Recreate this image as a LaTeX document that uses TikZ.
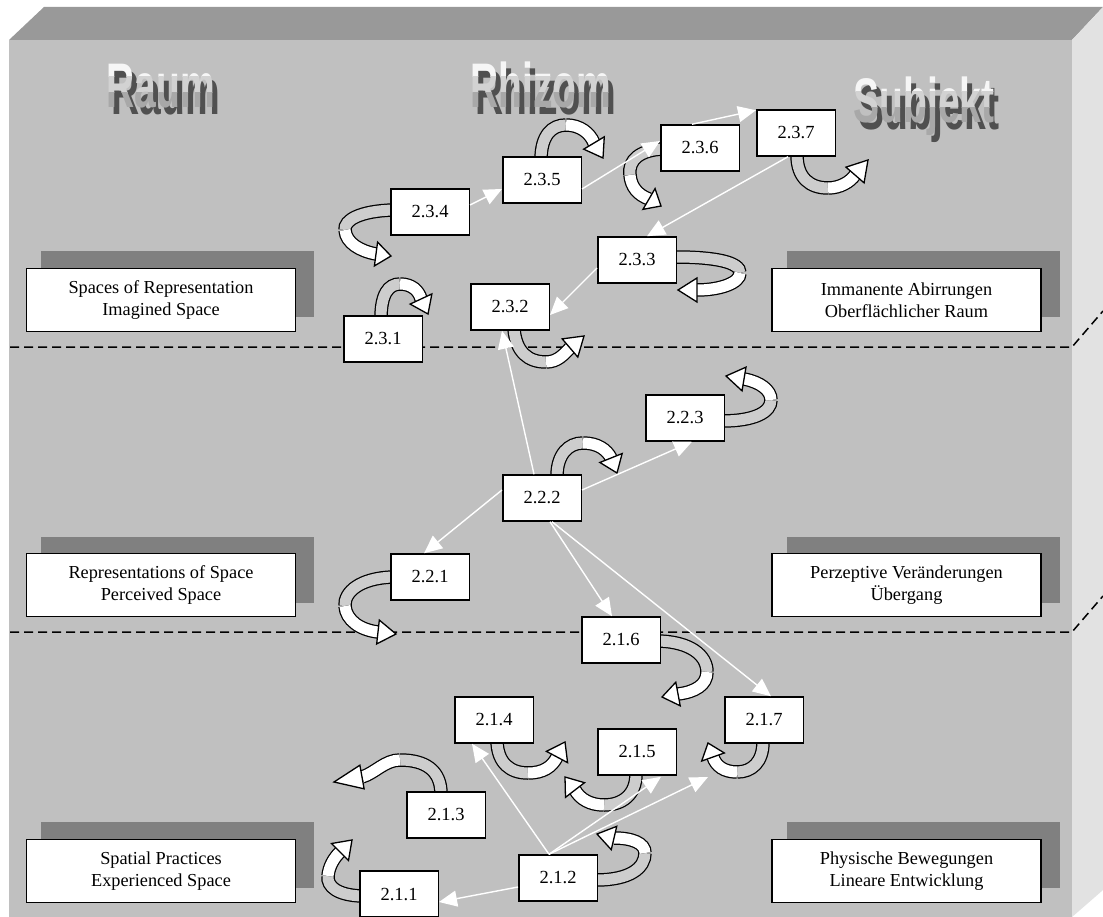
\documentclass[tikz,border=0pt]{standalone}
\usepackage{fontspec}
\setmainfont{Liberation Serif}
\newfontfamily\ttlfont{Liberation Sans}
\usetikzlibrary{calc,arrows.meta}
\definecolor{frontgray}{HTML}{C0C0C0}
\definecolor{topgray}{HTML}{999999}
\definecolor{sidegray}{HTML}{E2E2E2}
\definecolor{shadowgray}{HTML}{808080}
\definecolor{backgray}{HTML}{CDCDCD}
\definecolor{ttlshadow}{HTML}{505050}
\definecolor{ttlA}{HTML}{F6F6F6}
\definecolor{ttlB}{HTML}{D2D2D2}
\definecolor{ttlC}{HTML}{A8A8A8}
\tikzset{
  numbox/.style={draw=black, fill=white, line width=1.5pt, minimum width=78.5pt, minimum height=46pt, inner sep=0pt, font=\fontsize{18.5}{18.5}\selectfont},
  sidebox/.style={draw=black, fill=white, line width=1.5pt, minimum width=269pt, minimum height=63pt, inner sep=0pt, align=center, font=\fontsize{18.3}{21.7}\selectfont},
  conn/.style={draw=white, line width=1.4pt, -{Triangle[length=18pt,width=16pt]}},
  rback/.style={draw=backgray, line width=11pt, preaction={draw=black, line width=13.5pt}},
  rfront/.style={draw=white, line width=11pt, preaction={draw=black, line width=13.5pt}},
  rhead/.style={draw=black, fill=white, line width=1.3pt, line join=miter},
  dashln/.style={draw=black, line width=1.5pt, dash pattern=on 9pt off 5pt},
  ttlstyle/.style={anchor=base, inner sep=0pt, font=\ttlfont\bfseries\fontsize{63}{63}\selectfont}
}
\newcommand\rib[4]{%
  \draw[rback] #1;
  \draw[rfront] #2;
  \draw[rhead] ($#3!12pt!90:#4$) -- #4 -- ($#3!12pt!-90:#4$) -- cycle;}
\newcommand\ttl[4]{%
  \node[ttlstyle, text=ttlshadow] (#1s) at (#2+5,#3+7) {\scalebox{0.62}[1]{#4}};
  \begin{scope}
    \clip (#2-120,#3-60) rectangle (#2+120,#3-31);
    \node[ttlstyle, text=ttlA] (#1a) at (#2,#3) {\scalebox{0.62}[1]{#4}};
  \end{scope}
  \begin{scope}
    \clip (#2-120,#3-31) rectangle (#2+120,#3-15);
    \node[ttlstyle, text=ttlB] (#1b) at (#2,#3) {\scalebox{0.62}[1]{#4}};
  \end{scope}
  \begin{scope}
    \clip (#2-120,#3-15) rectangle (#2+120,#3+20);
    \node[ttlstyle, text=ttlC] (#1c) at (#2,#3) {\scalebox{0.62}[1]{#4}};
  \end{scope}
}
\begin{document}
\begin{tikzpicture}[x=1pt,y=-1pt]
\useasboundingbox (0,0) rectangle (1103,917);
% block
\fill[white] (0,0) rectangle (1103,917);
\fill[frontgray] (9,40) rectangle (1072,917);
\fill[topgray] (9,40) -- (44,7) -- (1103,7) -- (1072,40) -- cycle;
\fill[sidegray] (1072,40) -- (1103,7) -- (1103,890) -- (1072,917) -- cycle;
% dashed level lines
\draw[dashln] (10,347) -- (1072,347) -- (1103,311);
\draw[dashln] (10,632) -- (1072,632) -- (1103,596);
% shadows of side boxes
\fill[shadowgray] (41,251) rectangle (314,317);
\fill[shadowgray] (41,537) rectangle (314,603);
\fill[shadowgray] (41,822) rectangle (314,888);
\fill[shadowgray] (787,251) rectangle (1060,317);
\fill[shadowgray] (787,537) rectangle (1060,603);
\fill[shadowgray] (787,822) rectangle (1060,888);
% side boxes
\node[sidebox] (lb1) at (161,300) {Spaces of Representation\\Imagined Space};
\node[sidebox] (lb2) at (161,585) {Representations of Space\\Perceived Space};
\node[sidebox] (lb3) at (161,871) {Spatial Practices\\Experienced Space};
\node[sidebox] (rb1) at (906.5,300) {Immanente Abirrungen\\Oberflächlicher Raum};
\node[sidebox] (rb2) at (906.5,585) {Perzeptive Veränderungen\\Übergang};
\node[sidebox] (rb3) at (906.5,871) {Physische Bewegungen\\Lineare Entwicklung};
% titles
\ttl{traum}{161}{108}{Raum}
\ttl{trhizom}{541}{108}{Rhizom}
\ttl{tsubjekt}{924}{123}{Subjekt}
% ribbon arrows
\rib{(393,210) .. controls (360,211) and (344,220) .. (345,230)}{(345,230) .. controls (346,243) and (360,251) .. (376,254)}{(376,254)}{(391,256)}
\rib{(541,160) .. controls (541,135) and (552,125) .. (566,125)}{(566,125) .. controls (580,125) and (590,133) .. (594,143)}{(594,143)}{(603,158)}
\rib{(381,318) .. controls (381,295) and (388,284) .. (400,284)}{(400,284) .. controls (412,284) and (419,291) .. (421,299)}{(421,299)}{(428,314)}
\rib{(663,149) .. controls (640,150) and (628,160) .. (630,175)}{(630,175) .. controls (631,187) and (638,195) .. (649,199)}{(649,199)}{(661,206)}
\rib{(797,155) .. controls (797,178) and (810,188) .. (828,188)}{(828,188) .. controls (840,188) and (850,182) .. (855,175)}{(855,175)}{(868,160)}
\rib{(675,257) .. controls (715,257) and (740,262) .. (740,273)}{(740,273) .. controls (740,283) and (720,290) .. (697,290)}{(697,290)}{(678,290)}
\rib{(514,329) .. controls (516,352) and (528,362) .. (546,362)}{(546,362) .. controls (558,362) and (564,354) .. (570,348)}{(570,348)}{(584,336)}
\rib{(722,421) .. controls (755,421) and (771,412) .. (771,400)}{(771,400) .. controls (771,390) and (760,382) .. (744,379)}{(744,379)}{(726,376)}
\rib{(557,476) .. controls (557,455) and (568,443) .. (583,443)}{(583,443) .. controls (598,443) and (607,450) .. (611,458)}{(611,458)}{(617,473)}
\rib{(393,577) .. controls (360,578) and (344,592) .. (345,606)}{(345,606) .. controls (346,620) and (360,630) .. (378,632)}{(378,632)}{(396,634)}
\rib{(659,641) .. controls (690,642) and (707,655) .. (707,672)}{(707,672) .. controls (707,685) and (695,692) .. (678,694)}{(678,694)}{(662,697)}
\rib{(497,742) .. controls (498,763) and (510,773) .. (528,773)}{(528,773) .. controls (543,773) and (552,767) .. (557,757)}{(557,757)}{(565,742)}
\rib{(636,774) .. controls (636,795) and (622,805) .. (604,805)}{(604,805) .. controls (590,805) and (580,799) .. (575,790)}{(575,790)}{(565,777)}
\rib{(763,742) .. controls (763,762) and (752,772) .. (737,772)}{(737,772) .. controls (724,772) and (716,766) .. (713,757)}{(713,757)}{(708,743)}
\rib{(441,794) .. controls (441,770) and (425,760) .. (400,760)}{(400,760) .. controls (385,760) and (375,773) .. (362,777)}{(362,777)}{(334,782)}
\rib{(596,880) .. controls (630,880) and (645,868) .. (645,853)}{(645,853) .. controls (645,843) and (632,838) .. (614,838)}{(614,838)}{(597,834)}
\rib{(361,896) .. controls (338,895) and (327,887) .. (328,876)}{(328,876) .. controls (329,866) and (334,858) .. (340,852)}{(340,852)}{(352,840)}
% numbered boxes
\node[numbox] (b231) at (383,339) {2.3.1};
\node[numbox] (b232) at (510,307) {2.3.2};
\node[numbox] (b233) at (637,260) {2.3.3};
\node[numbox] (b234) at (430,212) {2.3.4};
\node[numbox] (b235) at (542,180) {2.3.5};
\node[numbox] (b236) at (700,148) {2.3.6};
\node[numbox] (b237) at (796,133) {2.3.7};
\node[numbox] (b221) at (430,577) {2.2.1};
\node[numbox] (b222) at (542,498) {2.2.2};
\node[numbox] (b223) at (685,418) {2.2.3};
\node[numbox] (b211) at (399,894) {2.1.1};
\node[numbox] (b212) at (558,878) {2.1.2};
\node[numbox] (b213) at (446,815) {2.1.3};
\node[numbox] (b214) at (494,720) {2.1.4};
\node[numbox] (b215) at (637,752) {2.1.5};
\node[numbox] (b216) at (621,640) {2.1.6};
\node[numbox] (b217) at (764,720) {2.1.7};
% connectors
\draw[conn] ($(b234.east)+(0,-7)$) -- ($(b235.west)+(0,9)$);
\draw[conn] ($(b235.east)+(0,9)$) -- ($(b236.west)+(0,-7)$);
\draw[conn] ($(b236.north)+(-8,0)$) -- ($(b237.north west)+(0,1)$);
\draw[conn] ($(b237.south)+(-8,0)$) -- ($(b233.north)+(10,0)$);
\draw[conn] ($(b233.west)+(0,8)$) -- ($(b232.east)+(0,8)$);
\draw[conn] ($(b222.north)+(-8,0)$) -- ($(b232.south)+(-8,0)$);
\draw[conn] ($(b222.east)+(0,-8)$) -- ($(b223.south)+(7,0)$);
\draw[conn] ($(b222.west)+(0,-8)$) -- ($(b221.north)+(-6,0)$);
\draw[conn] ($(b222.south)+(8,0)$) -- ($(b216.north)+(-9,0)$);
\draw[conn] ($(b222.south)+(10,0)$) -- ($(b217.north)+(7,0)$);
\draw[conn] ($(b212.west)+(0,9)$) -- ($(b211.east)+(0,8)$);
\draw[conn] ($(b212.north)+(-9,0)$) -- ($(b214.south)+(-22,0)$);
\draw[conn] ($(b212.north)+(-9,0)$) -- ($(b215.south)+(24,1)$);
\coordinate (e217) at (708,777);
\draw[conn] ($(b212.north)+(-9,0)$) -- (e217);
\end{tikzpicture}
\end{document}
